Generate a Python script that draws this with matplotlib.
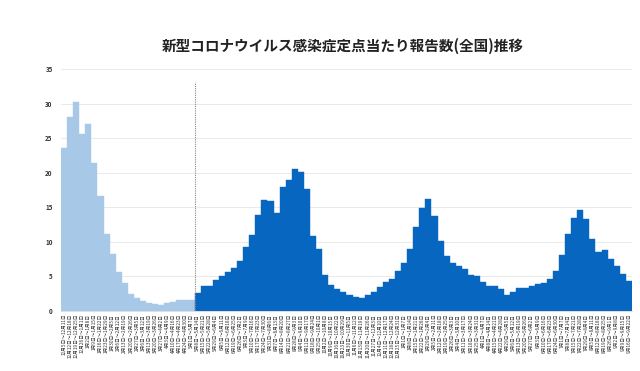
import pandas as pd
import matplotlib
matplotlib.use('Agg')
import matplotlib.pyplot as plt

plt.rcParams['font.family'] = ['Noto Sans CJK JP', 'DejaVu Sans']

# Weekly values per sentinel
# before 2023-05-08: estimated values (light blue)
before_values = [23.6, 28.1, 30.2, 25.6, 27.1, 21.4, 16.7, 11.2, 8.2, 5.6, 4.0,
                 2.5, 1.9, 1.45, 1.15, 1.05, 0.9, 1.15, 1.3, 1.55, 1.65, 1.65]
# from 2023-05-08: sentinel surveillance (dark blue)
after_values = [2.6, 3.6, 3.6, 4.5, 5.1, 5.6, 6.2, 7.3, 9.2, 11.0, 13.9, 16.0,
                15.9, 14.2, 17.9, 19.0, 20.5, 20.1, 17.6, 10.9, 8.9, 5.2, 3.8, 3.2,
                2.8, 2.35, 2.0, 1.9, 2.35, 2.7, 3.45, 4.2, 4.6, 5.8, 7.0, 9.0,
                12.15, 14.9, 16.2, 13.7, 10.1, 7.9, 7.0, 6.5, 6.1, 5.2, 5.1,
                4.2, 3.65, 3.55, 3.2, 2.3, 2.7, 3.3, 3.4, 3.55, 3.95, 4.1, 4.6,
                5.8, 8.1, 11.1, 13.5, 14.6, 13.3, 10.4, 8.5, 8.8, 7.5, 6.5, 5.3, 4.4]

first_week = '2022-12-05'
n_weeks = len(before_values) + len(after_values)
week_starts = pd.date_range(first_week, periods=n_weeks, freq='7D')
week_labels = [f"{s.month}月{s.day}日～{(s + pd.Timedelta(days=6)).month}月{(s + pd.Timedelta(days=6)).day}日"
               for s in week_starts]

title = '新型コロナウイルス感染症定点当たり報告数(全国)推移'

fig = plt.figure(figsize=(6.4, 3.71), dpi=100)
ax = fig.add_axes([0.0953, 0.1617, 0.892, 0.652])

x_before = list(range(len(before_values)))
x_after = list(range(len(before_values), n_weeks))
ax.bar(x_before, before_values, width=1.0, color='#a8c8e8', edgecolor='#a8c8e8', linewidth=0.3, zorder=2)
ax.bar(x_after, after_values, width=1.0, color='#0766c0', edgecolor='#0766c0', linewidth=0.3, zorder=2)

# boundary between estimated and sentinel data
ax.vlines(len(before_values) - 0.5, 0, 33.2, colors='#888888', linestyles=(0, (1, 1)), linewidth=0.8, zorder=3)

ax.set_xlim(-0.5, n_weeks - 0.5)
ax.set_ylim(0, 35)
ax.set_yticks(range(0, 36, 5))
ax.set_yticklabels([str(v) for v in range(0, 36, 5)], fontsize=4.5, fontweight='bold', color='#333333')
ax.set_xticks(range(n_weeks))
ax.set_xticklabels(week_labels, rotation=90, fontsize=3.4, color='#333333')
ax.tick_params(axis='both', length=0, pad=2)
ax.tick_params(axis='y', pad=6)
ax.grid(axis='y', color='#e6e6e6', linewidth=0.6, zorder=0)
ax.set_axisbelow(True)
for side in ['top', 'right', 'left']:
    ax.spines[side].set_visible(False)
ax.spines['bottom'].set_color('#d9d9d9')
ax.spines['bottom'].set_linewidth(0.6)

fig.text(0.536, 0.875, title, ha='center', va='center', fontsize=10.5, fontweight='bold', color='#222222')

fig.savefig('out.png', dpi=100)
